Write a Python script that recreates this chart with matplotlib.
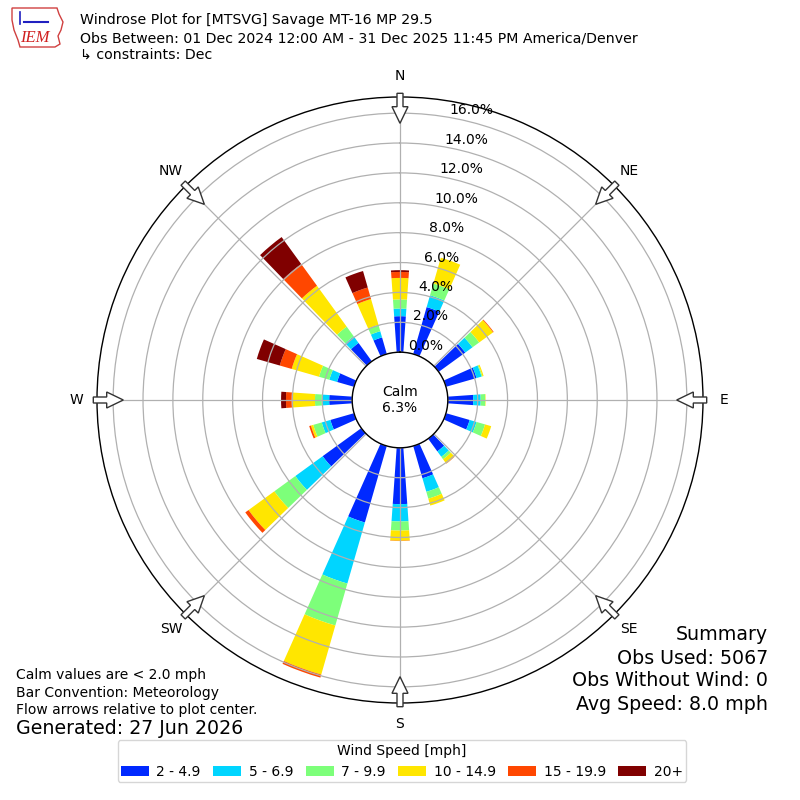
import numpy as np
import matplotlib
matplotlib.use("Agg")
import matplotlib.pyplot as plt
from matplotlib.patches import Polygon
from matplotlib.transforms import IdentityTransform

# ---------------- data ----------------
direction_deg = [0, 20, 50, 70, 90, 110, 140, 160, 180, 200, 230, 250, 270, 290, 320, 340]
speed_bins = ["2 - 4.9", "5 - 6.9", "7 - 9.9", "10 - 14.9", "15 - 19.9", "20+"]
pct_2_5 = [2.41, 3.27, 2.20, 2.13, 1.70, 1.65, 1.05, 2.25, 3.77, 5.33, 3.20, 1.65, 1.54, 1.18, 1.52, 1.16]
pct_5_7 = [0.51, 0.82, 0.60, 0.35, 0.50, 0.48, 0.45, 0.94, 1.16, 4.25, 2.26, 0.60, 0.50, 0.54, 0.55, 0.43]
pct_7_10 = [0.61, 0.82, 0.55, 0.06, 0.30, 0.59, 0.20, 0.48, 0.61, 2.92, 1.74, 0.59, 0.45, 0.72, 0.80, 0.44]
pct_10_15 = [1.44, 1.80, 1.15, 0.08, 0.03, 0.43, 0.35, 0.48, 0.68, 3.42, 2.13, 0.16, 1.56, 1.90, 3.38, 1.80]
pct_15_20 = [0.40, 0.00, 0.05, 0.00, 0.00, 0.00, 0.02, 0.00, 0.02, 0.21, 0.27, 0.12, 0.38, 0.83, 1.80, 0.80]
pct_20p = [0.12, 0.00, 0.00, 0.00, 0.00, 0.00, 0.00, 0.00, 0.00, 0.00, 0.00, 0.00, 0.33, 1.60, 2.23, 1.15]
calm_pct = 6.3
r_ticks = [0, 2, 4, 6, 8, 10, 12, 14, 16]
compass_labels = ["N", "NE", "E", "SE", "S", "SW", "W", "NW"]
compass_deg = [0, 45, 90, 135, 180, 225, 270, 315]

title_lines = [
    "Windrose Plot for [MTSVG] Savage MT-16 MP 29.5",
    "Obs Between: 01 Dec 2024 12:00 AM - 31 Dec 2025 11:45 PM America/Denver",
    "\u21b3 constraints: Dec",
]
left_notes = ["Calm values are < 2.0 mph", "Bar Convention: Meteorology",
              "Flow arrows relative to plot center."]
generated = "Generated: 27 Jun 2026"
summary_lines = ["Summary", "Obs Used: 5067", "Obs Without Wind: 0", "Avg Speed: 8.0 mph"]

series = [pct_2_5, pct_5_7, pct_7_10, pct_10_15, pct_15_20, pct_20p]

# ---------------- figure ----------------
W = H = 800
fig = plt.figure(figsize=(8, 8), dpi=100)
R_AX = 303.0
ax = fig.add_axes([(400 - R_AX) / W, (400 - R_AX) / H, 2 * R_AX / W, 2 * R_AX / H],
                  projection="polar")
ax.set_theta_zero_location("N")
ax.set_theta_direction(-1)
RO = -3.2
RMAX = 17.08
ax.set_rorigin(RO)
ax.set_ylim(0, RMAX)

colors = plt.cm.jet(np.linspace(1 / 6, 1, 6))
theta = np.deg2rad(direction_deg)
width = np.deg2rad(8.0)
bottom = np.zeros(len(direction_deg))
for vals, lab, c in zip(series, speed_bins, colors):
    vals = np.asarray(vals)
    ax.bar(theta, vals, width=width, bottom=bottom, color=c, label=lab,
           linewidth=0, align="center")
    bottom = bottom + vals

ax.set_thetagrids(compass_deg, labels=[""] * len(compass_deg))
ax.set_rgrids(r_ticks, labels=[f"{v:.1f}%" for v in r_ticks], angle=10, fontsize=10)
ax.grid(True, color="#b0b0b0", linewidth=0.9)
for sp in ax.spines.values():
    sp.set_color("black")
    sp.set_linewidth(1.0)

# compass labels outside the circle
r_lab = RO + (324.0 / R_AX) * (RMAX - RO)
for lab, deg in zip(compass_labels, compass_deg):
    ax.text(np.deg2rad(deg), r_lab, lab, ha="center", va="center", fontsize=10,
            clip_on=False)

# calm text
ax.text(0.5, 0.5, f"Calm\n{calm_pct:.1f}%", transform=ax.transAxes, ha="center",
        va="center", fontsize=10, linespacing=1.2)

# hollow flow arrows (display pixel coordinates)
cx, cy = 400.0, 400.0
for deg in compass_deg:
    a = np.deg2rad(deg)
    u = np.array([np.sin(a), np.cos(a)])
    v = np.array([np.cos(a), -np.sin(a)])
    pts_sp = [(306.7, -3), (306.7, 3), (293.3, 3), (293.3, 8), (276.7, 0),
              (293.3, -8), (293.3, -3)]
    pts = [np.array([cx, cy]) + s * u + p * v for s, p in pts_sp]
    poly = Polygon(pts, closed=True, facecolor="white", edgecolor="#333333",
                   linewidth=1.0, transform=IdentityTransform(), zorder=5)
    fig.add_artist(poly)

# ---------------- texts ----------------
def fy(ypix):
    return 1 - ypix / H

for line, yp in zip(title_lines, [20, 38, 54.5]):
    fig.text(80 / W, fy(yp), line, ha="left", va="center", fontsize=10.15)

for line, yp in zip(left_notes, [675, 693, 710]):
    fig.text(16 / W, fy(yp), line, ha="left", va="center", fontsize=10)
fig.text(16 / W, fy(729), generated, ha="left", va="center", fontsize=13.7)

for line, yp in zip(summary_lines, [635, 658, 681, 705]):
    fig.text(768 / W, fy(yp), line, ha="right", va="center", fontsize=13.7)

# IEM logo approximation
logo_x = [12, 57, 59, 63, 61, 58, 60, 55, 20, 18, 14, 12, 12]
logo_y = [8, 8, 14, 22, 30, 36, 44, 47, 47, 40, 30, 20, 8]
logo = Polygon([(x, H - y) for x, y in zip(logo_x, logo_y)], closed=True,
               facecolor="none", edgecolor="#d04040", linewidth=1.0,
               transform=IdentityTransform())
fig.add_artist(logo)
fig.text(35 / W, fy(38), "IEM", ha="center", va="center", fontsize=12,
         color="#d02020", style="italic", family="Liberation Serif")
fig.add_artist(plt.Line2D([24 / W, 48 / W], [fy(22), fy(22)], color="#2020c0",
                          linewidth=1.5, transform=fig.transFigure))
fig.add_artist(plt.Line2D([20 / W, 20 / W], [fy(12), fy(24)], color="#2020c0",
                          linewidth=1.2, transform=fig.transFigure))

# legend
handles, labels = ax.get_legend_handles_labels()
leg = fig.legend(handles, labels, loc="lower center", bbox_to_anchor=(402 / W, 11 / H),
                 ncol=6, title="Wind Speed [mph]", fontsize=10, title_fontsize=10,
                 handletextpad=0.55, columnspacing=0.9, handlelength=2.0,
                 borderpad=0.25, frameon=True)

fig.savefig("out.png", dpi=100)
